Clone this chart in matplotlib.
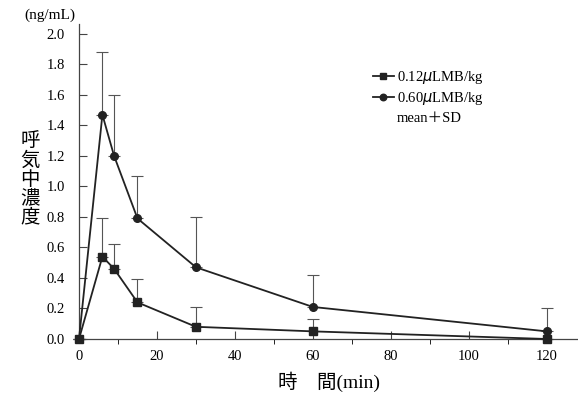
import matplotlib.pyplot as plt
from matplotlib.ticker import MultipleLocator

plt.rcParams['font.family'] = ['Liberation Serif', 'Noto Sans CJK JP']

time_min = [0, 6, 9, 15, 30, 60, 120]
low_mean = [0.0, 0.54, 0.46, 0.24, 0.08, 0.05, 0.0]
low_sd = [0.0, 0.25, 0.16, 0.15, 0.13, 0.08, 0.0]
high_mean = [0.0, 1.47, 1.20, 0.79, 0.47, 0.21, 0.05]
high_sd = [0.0, 0.41, 0.40, 0.28, 0.33, 0.21, 0.15]

fig = plt.figure(figsize=(5.78, 3.94), dpi=100)
ax = fig.add_axes([0.1367, 0.1396, 0.8633, 0.80])

ink = '#222222'
ax.errorbar(time_min, low_mean, yerr=[[0] * len(low_sd), low_sd], fmt='none',
            ecolor='#555555', elinewidth=0.8, capsize=4, capthick=0.8, clip_on=False)
ax.errorbar(time_min, high_mean, yerr=[[0] * len(high_sd), high_sd], fmt='none',
            ecolor='#555555', elinewidth=0.8, capsize=4, capthick=0.8, clip_on=False)
ax.plot(time_min, low_mean, '-s', color=ink, lw=1.3, ms=5.8, clip_on=False, zorder=5,
        label='0.12$\\mu$LMB/kg')
ax.plot(time_min, high_mean, '-o', color=ink, lw=1.3, ms=5.5, clip_on=False, zorder=5,
        label='0.60$\\mu$LMB/kg')
ax.plot([], [], ' ', label='mean＋SD')

ax.set_xlim(0, 128)
ax.set_ylim(0, 2.066)
ax.xaxis.set_major_locator(MultipleLocator(20))
ax.xaxis.set_minor_locator(MultipleLocator(10))
ax.set_yticks([i / 10 for i in range(0, 21, 2)])
ax.set_yticklabels([f'{i / 10:.1f}' for i in range(0, 21, 2)])
ax.tick_params(axis='both', direction='in', color='#444444', labelsize=10.5)
ax.tick_params(axis='x', which='major', length=6, pad=8)
ax.tick_params(axis='x', which='minor', length=3.5)
ax.tick_params(axis='y', length=6, pad=10)
for side in ['top', 'right']:
    ax.spines[side].set_visible(False)
for side in ['left', 'bottom']:
    ax.spines[side].set_color('#444444')
    ax.spines[side].set_linewidth(0.9)

leg = ax.legend(loc='upper left', bbox_to_anchor=(0.578, 0.875), frameon=False,
                fontsize=10.5, handlelength=1.4, handletextpad=0.2, labelspacing=0.3,
                borderaxespad=0, markerscale=0.85)

fig.text(0.13, 0.962, '(ng/mL)', ha='right', va='center', fontsize=11)
fig.text(0.052, 0.545, '呼\n気\n中\n濃\n度', ha='center', va='center', fontsize=14,
         linespacing=1.1)
fig.text(0.57, 0.03, '時\u3000間(min)', ha='center', va='center', fontsize=14)

fig.savefig('out.png', dpi=100)
